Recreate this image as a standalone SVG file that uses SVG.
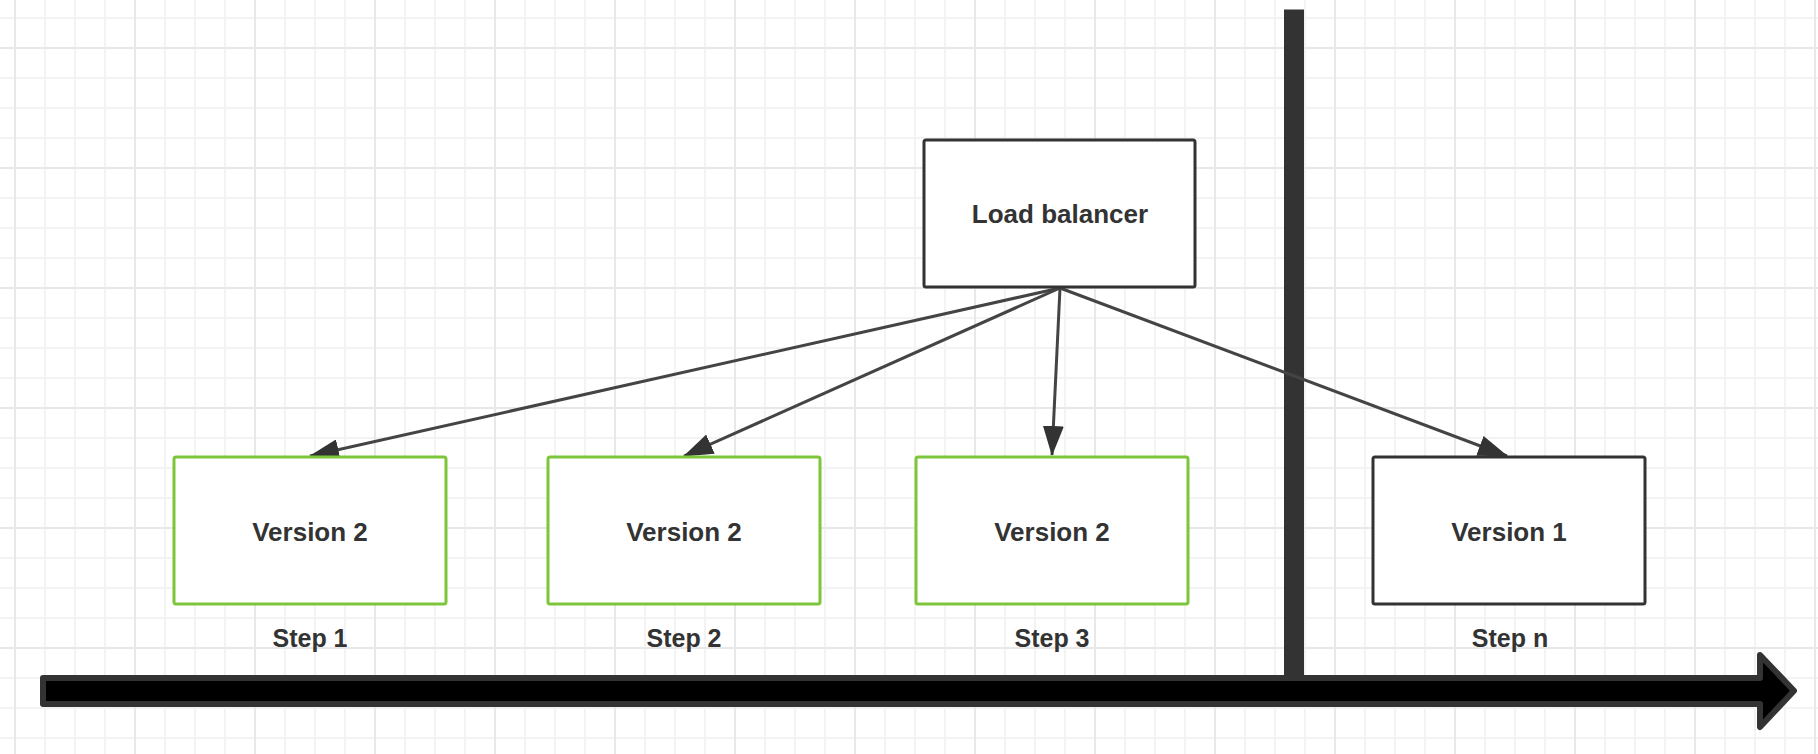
<svg xmlns="http://www.w3.org/2000/svg" width="1818" height="754" viewBox="0 0 1818 754">
  <defs>
    <pattern id="grid" patternUnits="userSpaceOnUse" x="14" y="47" width="120" height="120">
      <rect x="0" y="0" width="120" height="120" fill="#ffffff"/>
      <rect x="30" y="0" width="2" height="120" fill="#f3f3f3"/>
      <rect x="60" y="0" width="2" height="120" fill="#f3f3f3"/>
      <rect x="90" y="0" width="2" height="120" fill="#f3f3f3"/>
      <rect x="0" y="30" width="120" height="2" fill="#f3f3f3"/>
      <rect x="0" y="60" width="120" height="2" fill="#f3f3f3"/>
      <rect x="0" y="90" width="120" height="2" fill="#f3f3f3"/>
      <rect x="0" y="0" width="2" height="120" fill="#e8e8e8"/>
      <rect x="0" y="0" width="120" height="2" fill="#e8e8e8"/>
    </pattern>
    <marker id="arrow" viewBox="0 0 30 21" refX="29" refY="10.5" markerWidth="30" markerHeight="21" markerUnits="userSpaceOnUse" orient="auto">
      <path d="M0,0 L30,10.5 L0,21 Z" fill="#333333"/>
    </marker>
  </defs>
  <style>
    .box { fill: #ffffff; stroke-width: 3; }
    .dark { stroke: #333333; }
    .green { stroke: #7dc63b; }
    .label { font-family: "Liberation Sans", Arial, sans-serif; font-weight: bold; font-size: 26px; fill: #333333; text-anchor: middle; }
    .step { font-family: "Liberation Sans", Arial, sans-serif; font-weight: bold; font-size: 25px; fill: #333333; text-anchor: middle; }
    .conn { stroke: #444444; stroke-width: 3; fill: none; marker-end: url(#arrow); }
  </style>

  <rect x="0" y="0" width="1818" height="754" fill="url(#grid)"/>

  <g id="timeline">
    <rect x="1284" y="9.5" width="20" height="666" fill="#333333"/>
    <path d="M43,678 L1760,678 L1760,655 L1794,690.7 L1760,727 L1760,704 L43,704 Z" fill="#000000" stroke="#333333" stroke-width="6" stroke-linejoin="round"/>
  </g>

  <g id="connectors">
    <line class="conn" x1="1060" y1="288" x2="310" y2="456"/>
    <line class="conn" x1="1060" y1="288" x2="684" y2="456"/>
    <line class="conn" x1="1060" y1="288" x2="1052" y2="455"/>
    <line class="conn" x1="1060" y1="288" x2="1507" y2="456"/>
  </g>

  <g id="load-balancer">
    <rect class="box dark" x="924" y="140" width="271" height="147" rx="2"/>
    <text class="label" x="1060" y="223">Load balancer</text>
  </g>

  <g id="step1">
    <rect class="box green" x="174" y="457" width="272" height="147" rx="2"/>
    <text class="label" x="310" y="541">Version 2</text>
    <text class="step" x="310" y="647">Step 1</text>
  </g>

  <g id="step2">
    <rect class="box green" x="548" y="457" width="272" height="147" rx="2"/>
    <text class="label" x="684" y="541">Version 2</text>
    <text class="step" x="684" y="647">Step 2</text>
  </g>

  <g id="step3">
    <rect class="box green" x="916" y="457" width="272" height="147" rx="2"/>
    <text class="label" x="1052" y="541">Version 2</text>
    <text class="step" x="1052" y="647">Step 3</text>
  </g>

  <g id="stepn">
    <rect class="box dark" x="1373" y="457" width="272" height="147" rx="2"/>
    <text class="label" x="1509" y="541">Version 1</text>
    <text class="step" x="1510" y="647">Step n</text>
  </g>
</svg>
